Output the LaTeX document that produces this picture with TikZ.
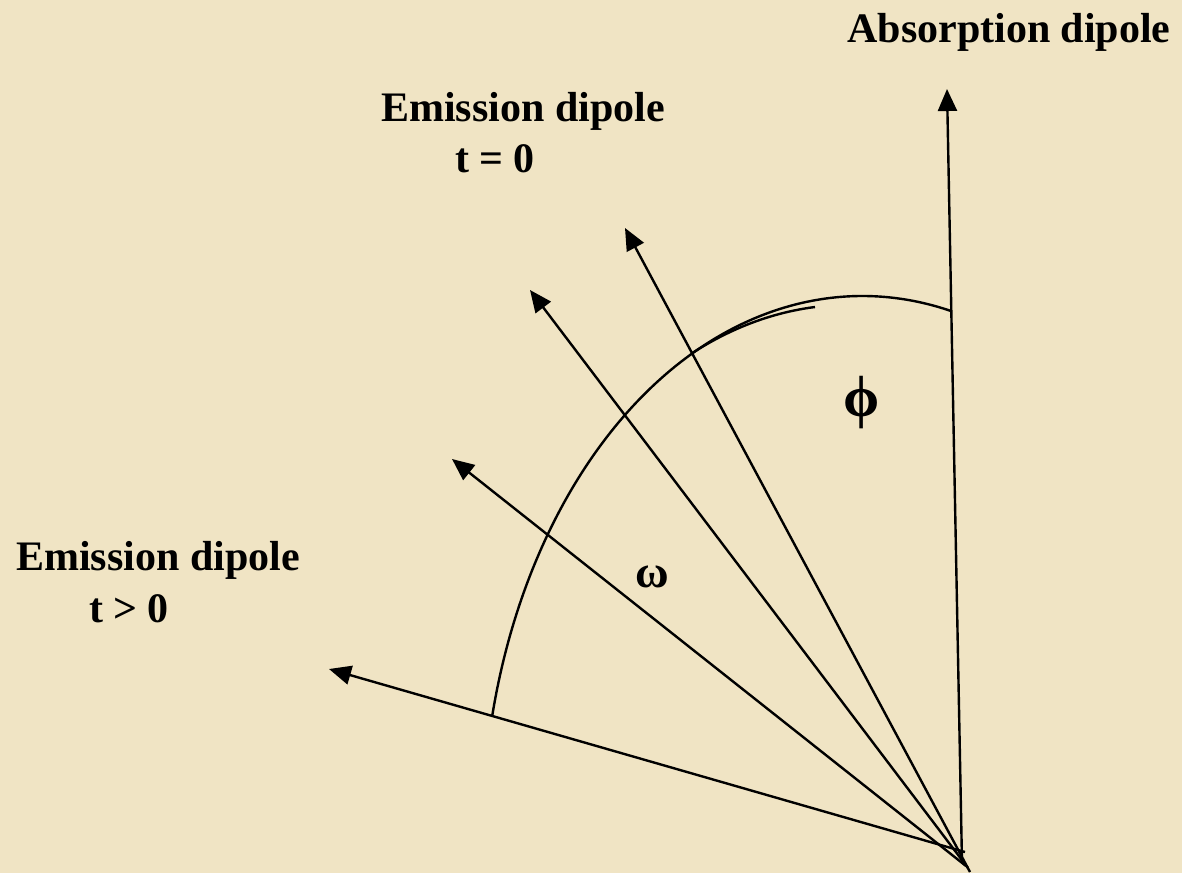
\documentclass[tikz,border=0pt]{standalone}
\usepackage{fontspec}
\setmainfont{Liberation Serif}
\usetikzlibrary{arrows.meta}

\definecolor{parchment}{RGB}{240,228,196}

\begin{document}
\begin{tikzpicture}[
    x=0.5pt, y=0.5pt,
    vec/.style={line width=1.2pt, -{Triangle[length=11pt,width=9.5pt]}},
    arcline/.style={line width=1.2pt},
    lbl/.style={font=\fontsize{21}{25}\selectfont\bfseries, anchor=base, inner sep=0pt},
    greek/.style={font=\fontsize{22}{26}\selectfont, inner sep=0pt}
  ]
    \fill[parchment] (0,0) rectangle (1182,-873);
    \useasboundingbox (0,0) rectangle (1182,-873);

    % dipole vectors
    \coordinate (absfoot) at (962,-863);
    \coordinate (absdip) at (947,-89);
    \coordinate (foota) at (970,-872);
    \coordinate (emzero) at (625,-228);
    \coordinate (footb) at (968,-868);
    \coordinate (emone) at (530,-290);
    \coordinate (footc) at (966,-866);
    \coordinate (emtwo) at (452,-459);
    \coordinate (footd) at (965,-852);
    \coordinate (emlate) at (329,-669);

    \draw[vec] (absfoot) -- (absdip);
    \draw[vec] (foota) -- (emzero);
    \draw[vec] (footb) -- (emone);
    \draw[vec] (footc) -- (emtwo);
    \draw[vec] (footd) -- (emlate);

    % angle arcs
    \draw[arcline] (951,-311) arc[start angle=76.5, end angle=166.8, x radius=380, y radius=543];
    \draw[arcline] (815,-307) arc[start angle=95.1, end angle=114.4, x radius=380, y radius=543];

    % labels
    \node[lbl] (abslabel) at (1009,-42) {Absorption dipole};
    \node[lbl] (emlabel) at (523,-121) {Emission dipole};
    \node[lbl] (emtime) at (495,-172) {t = 0};
    \node[lbl] (latelabel) at (158,-570) {Emission dipole};
    \node[lbl] (latetime) at (129,-622) {t > 0};
    \node[greek, font=\fontsize{23}{27}\selectfont\bfseries] (omega) at (652,-577) {ω};
    \node[greek, font=\fontsize{29}{33}\selectfont\bfseries] (phi) at (862,-403) {ϕ};
\end{tikzpicture}
\end{document}
